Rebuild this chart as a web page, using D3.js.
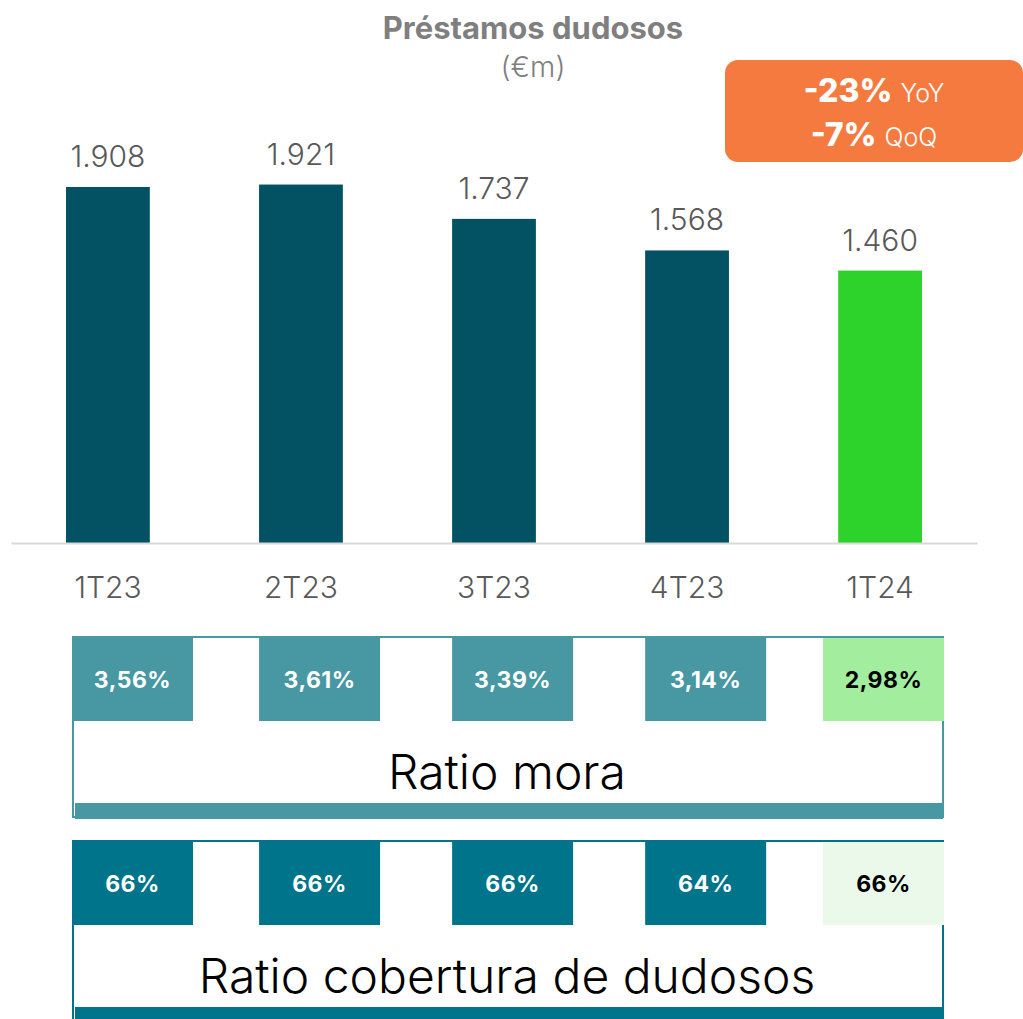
<!DOCTYPE html>
<html>
<head>
<meta charset="utf-8">
<script src="https://cdn.jsdelivr.net/npm/d3@7"></script>
<style>
  html, body { margin: 0; padding: 0; background: #fff; }
  svg text { font-family: Inter, "Open Sans", sans-serif; }
</style>
</head>
<body>
<svg id="chart"></svg>
<script>
// Data
const quarters = ["1T23", "2T23", "3T23", "4T23", "1T24"];
const npl = [1908, 1921, 1737, 1568, 1460];
const nplLabels = ["1.908", "1.921", "1.737", "1.568", "1.460"];
const ratioMora = ["3,56%", "3,61%", "3,39%", "3,14%", "2,98%"];
const ratioCobertura = ["66%", "66%", "66%", "64%", "66%"];
const badgeLines = [["-23%", "YoY"], ["-7%", "QoQ"]];

const C = {
  bar: "#025263", last: "#2dd22b", text: "#595959", title: "#7f7f7f",
  orange: "#f47a3f", mora: "#4898a4", moraLast: "#a3ed9f",
  cob: "#00748b", cobLast: "#ebf9ea", axis: "#d9d9d9"
};

const W = 1023, H = 1019;
const svg = d3.select("#chart").attr("width", W).attr("height", H);

// Scales
const x = d3.scaleBand().domain(quarters).range([11, 977]).paddingInner(0.566).paddingOuter(0.285);
const y = d3.scaleLinear().domain([0, 2910]).range([543, 0]);

// Title
svg.append("text").attr("x", 533).attr("y", 39).attr("text-anchor", "middle")
  .style("font-size", "31px").style("font-weight", "700").style("fill", C.title)
  .text("Préstamos dudosos");
svg.append("text").attr("x", 533).attr("y", 77).attr("text-anchor", "middle")
  .style("font-size", "29px").style("font-weight", "300").style("fill", C.title)
  .text("(€m)");

// Bars
svg.selectAll("rect.bar").data(quarters).join("rect").attr("class", "bar")
  .attr("x", d => x(d)).attr("width", x.bandwidth())
  .attr("y", (d, i) => y(npl[i])).attr("height", (d, i) => y(0) - y(npl[i]))
  .attr("fill", (d, i) => i === quarters.length - 1 ? C.last : C.bar);

svg.selectAll("text.val").data(quarters).join("text").attr("class", "val")
  .attr("x", d => x(d) + x.bandwidth() / 2).attr("y", (d, i) => y(npl[i]) - 20)
  .attr("text-anchor", "middle").style("font-size", "30px").style("font-weight", "300")
  .style("fill", C.text)
  .text((d, i) => nplLabels[i]);

// Axis
const axis = svg.append("g").attr("transform", `translate(0,${y(0)})`)
  .call(d3.axisBottom(x).tickSize(0).tickPadding(34));
axis.select(".domain").attr("stroke", C.axis).attr("stroke-width", 2);
axis.selectAll("text").style("font-size", "30px").style("font-weight", "300").style("fill", C.text)
  .style("font-family", "Inter, sans-serif").attr("dy", "0.71em");

// Badge
const badge = svg.append("g").attr("transform", "translate(725,60)");
badge.append("rect").attr("width", 298).attr("height", 102).attr("rx", 13).attr("fill", C.orange);
badgeLines.forEach((l, i) => {
  const t = badge.append("text").attr("x", 149).attr("y", 42 + i * 44)
    .attr("text-anchor", "middle").style("fill", "#fff");
  t.append("tspan").style("font-size", "32px").style("font-weight", "800").text(l[0]);
  t.append("tspan").style("font-size", "25px").style("font-weight", "300").attr("dx", 8).text(l[1]);
});

// Ratio tables: cells follow the bar columns, clamped inside the box
const boxL = 72, boxR = 944, cellW = 121;
const cellX = d => Math.max(boxL, Math.min(boxR - cellW, x(d) + 6 * 0));

function table(top, vals, color, lastColor, label) {
  const g = svg.append("g").attr("transform", `translate(0,${top})`);
  g.append("rect").attr("x", boxL + 1).attr("y", 1).attr("width", boxR - boxL - 2).attr("height", 180)
    .attr("fill", "#fff").attr("stroke", color).attr("stroke-width", 2);
  g.append("rect").attr("x", boxL + 3).attr("y", 167).attr("width", boxR - boxL - 4).attr("height", 16).attr("fill", color);
  g.selectAll("rect.cell").data(quarters).join("rect").attr("class", "cell")
    .attr("x", cellX).attr("y", 2).attr("width", cellW).attr("height", 83)
    .attr("fill", (d, i) => i === quarters.length - 1 ? lastColor : color);
  g.selectAll("text.cell").data(quarters).join("text").attr("class", "cell")
    .attr("x", d => cellX(d) + cellW / 2).attr("y", 52)
    .attr("text-anchor", "middle").style("font-size", "23px").style("font-weight", "700")
    .style("letter-spacing", "0.5px")
    .style("fill", (d, i) => i === quarters.length - 1 ? "#000" : "#fff")
    .text((d, i) => vals[i]);
  g.append("text").attr("x", 507).attr("y", 153).attr("text-anchor", "middle")
    .style("font-size", "48px").style("font-weight", "300").style("fill", "#000").text(label);
}

table(636, ratioMora, C.mora, C.moraLast, "Ratio mora");
table(840, ratioCobertura, C.cob, C.cobLast, "Ratio cobertura de dudosos");
</script>
</body>
</html>
